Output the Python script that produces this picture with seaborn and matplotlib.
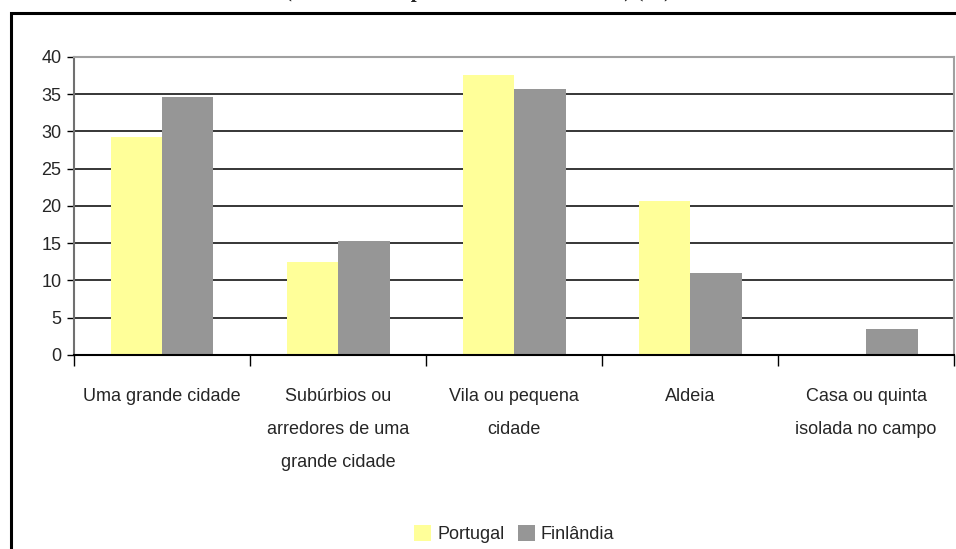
import matplotlib.pyplot as plt
import matplotlib.patches as mpatches
import numpy as np
import pandas as pd
import seaborn as sns

categories = [
    "Uma grande cidade",
    "Subúrbios ou\narredores de uma\ngrande cidade",
    "Vila ou pequena\ncidade",
    "Aldeia",
    "Casa ou quinta\nisolada no campo",
]
portugal = [29.3, 12.5, 37.6, 20.7, 0.0]
finlandia = [34.6, 15.3, 35.7, 11.0, 3.5]
series = ["Portugal", "Finlândia"]
colors = ["#FFFF99", "#969696"]
title = "(Local onde a pessoa vive actualmente) (%)"


def main():
    df = pd.DataFrame({
        "local": categories * 2,
        "valor": portugal + finlandia,
        "pais": [series[0]] * len(categories) + [series[1]] * len(categories),
    })

    sns.set_style("white")
    plt.rcParams["font.family"] = ["Liberation Sans", "DejaVu Sans"]

    fig = plt.figure(figsize=(9.56, 5.49), dpi=100)
    ax = fig.add_axes([0.0774, 0.3534, 0.9206, 0.5428])

    sns.barplot(data=df, x="local", y="valor", hue="pais", palette=colors,
                width=0.585, ax=ax, saturation=1, linewidth=0, zorder=3)

    ax.set_ylim(0, 40)
    ax.set_xlim(-0.5, len(categories) - 0.5)
    ax.set_yticks(np.arange(0, 41, 5))
    ax.tick_params(axis="y", labelsize=13, length=5, width=1, color="black",
                   direction="out", pad=4, left=True)
    for y in range(5, 40, 5):
        ax.axhline(y, color="black", linewidth=1.1, zorder=1)

    ax.set_xticks(range(len(categories)))
    ax.set_xticklabels(categories, fontsize=13, linespacing=2.2, va="top")
    ax.tick_params(axis="x", length=0, pad=24)
    ax.set_xticks(np.arange(-0.5, len(categories), 1), minor=True)
    ax.tick_params(axis="x", which="minor", length=8, width=1, color="black",
                   direction="out", bottom=True)

    ax.set_xlabel("")
    ax.set_ylabel("")
    for side in ["top", "right"]:
        ax.spines[side].set_visible(True)
        ax.spines[side].set_color("#a0a0a0")
        ax.spines[side].set_linewidth(1.5)
    ax.spines["left"].set_color("#707070")
    ax.spines["left"].set_linewidth(1.5)
    ax.spines["bottom"].set_color("black")
    ax.spines["bottom"].set_linewidth(1.5)
    ax.spines["bottom"].set_zorder(4)

    handles = [mpatches.Patch(facecolor=c, edgecolor="none", label=s)
               for s, c in zip(series, colors)]
    ax.get_legend().remove()
    fig.legend(handles=handles, loc="center", bbox_to_anchor=(0.538, 0.027),
               ncol=2, frameon=False, fontsize=13, handlelength=0.95,
               handleheight=0.95, handletextpad=0.35, columnspacing=0.7)

    # outer chart border, clipped at right and bottom like the original
    fig.patches.append(mpatches.Rectangle(
        (11 / 956, -0.05), 1.1, 1 - 13 / 549 + 0.05, transform=fig.transFigure,
        fill=False, edgecolor="black", linewidth=2.2, zorder=0))

    # title sits above the image edge; only its lowest strokes show, as in the original
    fig.text(0.5, 1.0 + 3 / 549, title, ha="center", va="baseline", fontsize=15,
             fontweight="bold", family=["Liberation Serif", "DejaVu Serif"])

    fig.savefig("out.png", dpi=100)


if __name__ == "__main__":
    main()
